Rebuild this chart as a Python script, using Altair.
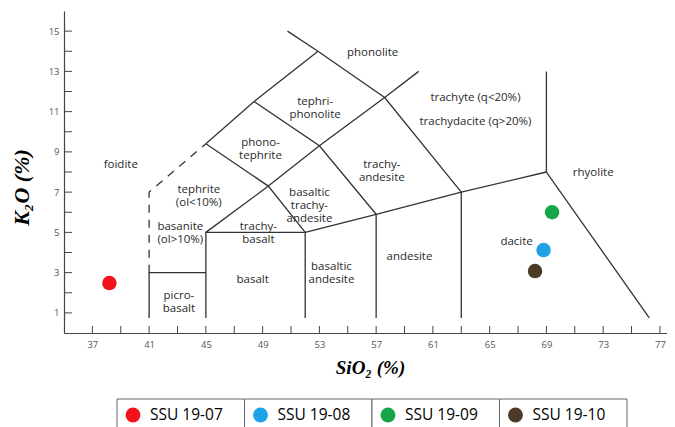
import altair as alt
import pandas as pd

# ---- samples ----
samples = ["SSU 19-07", "SSU 19-08", "SSU 19-09", "SSU 19-10"]
sio2 = [38.2, 68.8, 69.4, 68.2]
k2o = [2.48, 4.12, 6.0, 3.08]
colors = ["#f2121b", "#1ea2e6", "#18a54a", "#4a3a27"]

# ---- axis values ----
x_label_vals = [37, 41, 45, 49, 53, 57, 61, 65, 69, 73, 77]
x_tick_vals = [37, 39, 41, 43, 45, 47, 49, 51, 53, 55, 57, 59, 61, 63, 65, 67, 69, 71, 73, 75, 77]
y_label_vals = [1, 3, 5, 7, 9, 11, 13, 15]
y_tick_vals = [1, 2, 3, 4, 5, 6, 7, 8, 9, 10, 11, 12, 13, 14, 15]

# ---- field boundaries (SiO2, K2O) ----
b_picro = [(41, 0.75), (41, 3), (45, 3)]
b_basalt = [(45, 0.75), (45, 5), (52, 5), (52, 0.75)]
b_sub = [(52, 5), (57, 5.9), (63, 7), (69, 8)]
b_57 = [(57, 0.75), (57, 5.9)]
b_63 = [(63, 0.75), (63, 7)]
b_rhy = [(69, 13), (69, 8), (76.25, 0.75)]
b_tb = [(45, 5), (49.4, 7.3), (53, 9.3), (57.6, 11.7), (60, 13)]
b_tb2 = [(45, 9.4), (49.4, 7.3), (52, 5)]
b_foid = [(45, 9.4), (48.4, 11.5), (52.9, 14)]
b_phon = [(50.75, 15), (52.9, 14), (57.6, 11.7), (63, 7)]
b_ta = [(48.4, 11.5), (53, 9.3), (57, 5.9)]
b_dash = [(41, 3), (41, 7), (45, 9.4)]

solid_bounds = [b_picro, b_basalt, b_sub, b_57, b_63, b_rhy, b_tb, b_tb2, b_foid, b_phon, b_ta]

# ---- field names ----
region_labels = ["phonolite", "tephri-\nphonolite", "phono-\ntephrite", "foidite",
                 "tephrite\n(ol<10%)", "basanite\n(ol>10%)", "trachy-\nbasalt",
                 "basaltic\ntrachy-\nandesite", "trachy-\nandesite", "trachyte (q<20%)",
                 "trachydacite (q>20%)", "rhyolite", "dacite", "andesite",
                 "basaltic\nandesite", "basalt", "picro-\nbasalt"]
label_x = [56.75, 52.7, 48.85, 39.0, 44.5, 43.2, 48.7, 52.3, 57.4, 64.0, 64.0, 72.3, 66.9, 59.35, 53.85, 48.3, 43.1]
label_y = [13.9, 11.5, 9.43, 8.34, 7.1, 5.25, 5.25, 6.95, 8.34, 11.66, 10.5, 7.94, 4.5, 3.8, 3.3, 2.63, 1.84]

W, H = 603, 322
LINE = "#333333"

def seg_frame(bounds):
    rows = []
    for s, b in enumerate(bounds):
        for o, (x, y) in enumerate(b):
            rows.append({"seg": s, "ord": o, "x": x, "y": y})
    return pd.DataFrame(rows)

X = alt.X("x:Q", scale=alt.Scale(domain=[35, 77.5], nice=False, zero=False),
          axis=alt.Axis(values=x_label_vals, ticks=False, grid=False, labelFontSize=9.5,
                        labelColor="#555", labelFont="Open Sans", labelPadding=6,
                        domainColor="#444", domainWidth=1.2,
                        title="SiO₂ (%)", titleFont="Liberation Serif", titleFontStyle="italic",
                        titleFontWeight="bold", titleFontSize=19, titleColor="black",
                        titleX=306, titleY=40, titleBaseline="alphabetic", titleAlign="center"))
Y = alt.Y("y:Q", scale=alt.Scale(domain=[0, 16], nice=False, zero=False),
          axis=alt.Axis(values=y_label_vals, ticks=False, grid=False, labelFontSize=9.5,
                        labelColor="#555", labelFont="Open Sans", labelPadding=5,
                        domainColor="#444", domainWidth=1.2,
                        title="K₂O (%)", titleFont="Liberation Serif", titleFontStyle="italic",
                        titleFontWeight="bold", titleFontSize=22, titleColor="black",
                        titleX=-43, titleY=176, titleAngle=270, titleBaseline="middle",
                        titleAlign="center"))

solid = alt.Chart(seg_frame(solid_bounds)).mark_line(color=LINE, strokeWidth=1.3).encode(
    x=X, y=Y, detail="seg:N", order="ord:Q")
dashed = alt.Chart(seg_frame([b_dash])).mark_line(color=LINE, strokeWidth=1.3, strokeDash=[8, 7]).encode(
    x=X, y=Y, detail="seg:N", order="ord:Q")

xt = alt.Chart(pd.DataFrame({"x": x_tick_vals})).mark_rule(color="#444", strokeWidth=1).encode(
    x=X, y=alt.value(H - 7), y2=alt.value(H))
yt = alt.Chart(pd.DataFrame({"y": y_tick_vals})).mark_rule(color="#444", strokeWidth=1).encode(
    y=Y, x=alt.value(0), x2=alt.value(8))

labels = alt.Chart(pd.DataFrame({"x": label_x, "y": label_y, "t": region_labels})).mark_text(
    font="Open Sans", fontSize=11.5, color="#2a2a2a", lineBreak="\n", lineHeight=13,
    align="center", baseline="middle").encode(x=X, y=Y, text="t:N")

pts = alt.Chart(pd.DataFrame({"x": sio2, "y": k2o, "s": samples, "c": colors})).mark_circle(
    size=210, opacity=1).encode(x=X, y=Y, color=alt.Color("c:N", scale=None))

main = alt.layer(solid, dashed, xt, yt, labels, pts)

# ---- legend table ----
leg = pd.DataFrame({"s": samples, "c": colors, "i": list(range(len(samples)))})
LX = alt.X("i:Q", scale=alt.Scale(domain=[0, 4], range=[53, 563]), axis=None)
cells = alt.Chart(leg).mark_rect(fill="white", stroke="#666", strokeWidth=1).transform_calculate(
    i2="datum.i + 1").encode(x=LX, x2="i2:Q", y=alt.value(388), y2=alt.value(422))
ldots = alt.Chart(leg).mark_circle(size=220, opacity=1, xOffset=16).encode(
    x=LX, y=alt.value(404), color=alt.Color("c:N", scale=None))
ltext = alt.Chart(leg).mark_text(font="Open Sans", fontSize=15.5, color="black", align="left",
                                 baseline="middle", dx=33).encode(
    x=LX, y=alt.value(404), text="s:N")
legend = alt.layer(cells, ldots, ltext)

chart = alt.layer(main, legend).resolve_scale(x="independent").properties(
    width=W, height=H,
    padding={"left": 56, "top": 3, "right": 0, "bottom": 97},
    autosize=alt.AutoSizeParams(type="none"),
).configure_view(stroke=None)

chart.save("out.html", embed_options={"renderer": "svg", "actions": False})
